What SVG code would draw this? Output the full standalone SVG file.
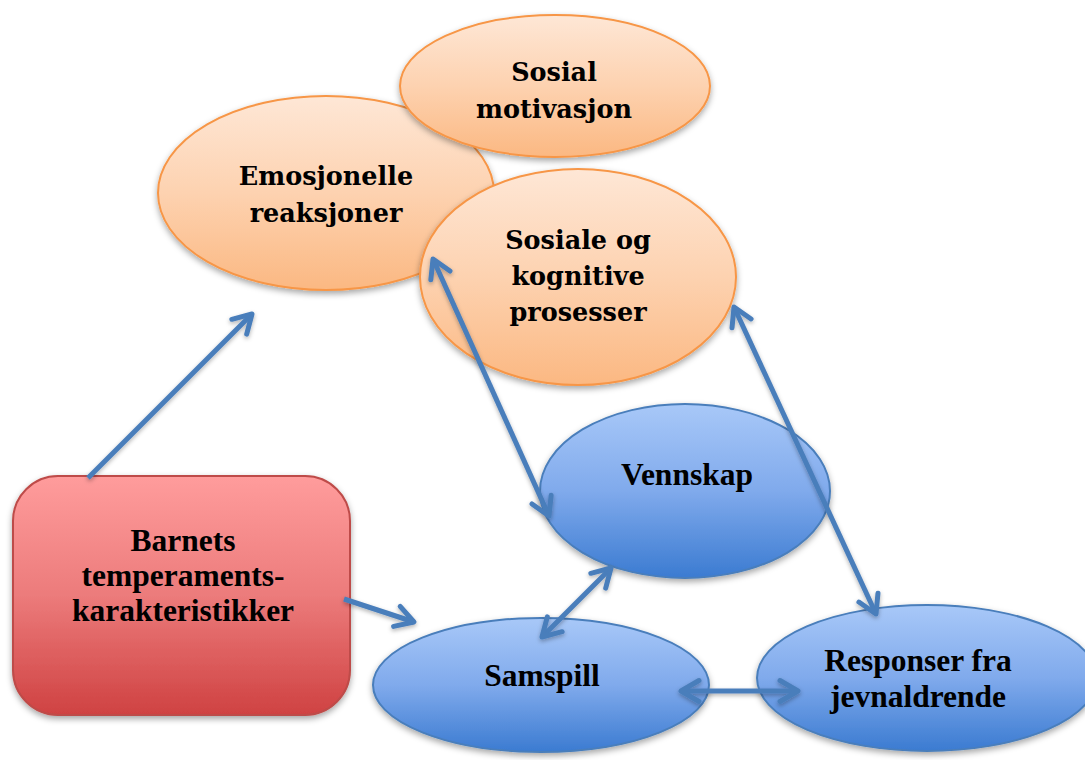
<svg xmlns="http://www.w3.org/2000/svg" width="1085" height="760" viewBox="0 0 1085 760">
<defs>
<linearGradient id="gOr" x1="0" y1="0" x2="0" y2="1">
<stop offset="0" stop-color="#fee7d6"/>
<stop offset="0.5" stop-color="#fdd2b0"/>
<stop offset="1" stop-color="#fbb882"/>
</linearGradient>
<linearGradient id="gBl" x1="0" y1="0" x2="0" y2="1">
<stop offset="0" stop-color="#a8c8f8"/>
<stop offset="0.5" stop-color="#80aaec"/>
<stop offset="1" stop-color="#3b7bd1"/>
</linearGradient>
<linearGradient id="gRd" x1="0" y1="0" x2="0" y2="1">
<stop offset="0" stop-color="#ff9c9c"/>
<stop offset="0.5" stop-color="#ec7b7b"/>
<stop offset="1" stop-color="#cf4242"/>
</linearGradient>
<filter id="sh" x="-10%" y="-10%" width="120%" height="130%">
<feDropShadow dx="0" dy="3" stdDeviation="3" flood-color="#000" flood-opacity="0.35"/>
</filter>
<filter id="ash" x="-20%" y="-20%" width="140%" height="140%">
<feDropShadow dx="0" dy="2" stdDeviation="2" flood-color="#000" flood-opacity="0.3"/>
</filter>
<marker id="ah" markerUnits="userSpaceOnUse" orient="auto-start-reverse" refX="0" refY="0" overflow="visible">
<path d="M -18,-10.5 L 0,0 L -18,10.5" fill="none" stroke="#4a7ebb" stroke-width="5" stroke-linecap="round" stroke-linejoin="round"/>
</marker>
</defs>
<style>
.or{fill:url(#gOr);stroke:#f79646;stroke-width:2;filter:url(#sh)}
.bl{fill:url(#gBl);stroke:#4a7ebb;stroke-width:2;filter:url(#sh)}
.rd{fill:url(#gRd);stroke:#be4b48;stroke-width:2;filter:url(#sh)}
.tc{font-family:"DejaVu Serif",serif;font-weight:bold;font-size:25.5px;fill:#000;text-anchor:middle}
.tt{font-family:"Liberation Serif","Times New Roman",serif;font-weight:bold;font-size:31.5px;fill:#000;text-anchor:middle}
.c{fill:none;stroke:#4a7ebb;stroke-width:5}
</style>
<rect width="1085" height="760" fill="#fff"/>
<g id="emosjonelle">
<ellipse class="or" cx="326" cy="193" rx="168" ry="97"/>
<text class="tc" x="326" y="185">Emosjonelle</text>
<text class="tc" x="326" y="222">reaksjoner</text>
</g>
<g id="sosial-motivasjon">
<ellipse class="or" cx="555" cy="86" rx="155" ry="71"/>
<text class="tc" x="554" y="81">Sosial</text>
<text class="tc" x="554" y="118">motivasjon</text>
</g>
<g id="sosiale-kognitive">
<ellipse class="or" cx="578" cy="277" rx="158" ry="108"/>
<text class="tc" x="578" y="249">Sosiale og</text>
<text class="tc" x="578" y="285">kognitive</text>
<text class="tc" x="578" y="321">prosesser</text>
</g>
<g id="vennskap">
<ellipse class="bl" cx="685" cy="491" rx="145" ry="87"/>
<text class="tt" x="687" y="485">Vennskap</text>
</g>
<g id="samspill">
<ellipse class="bl" cx="541" cy="685" rx="168" ry="67"/>
<text class="tt" x="542" y="686">Samspill</text>
</g>
<g id="responser">
<ellipse class="bl" cx="927" cy="678" rx="170" ry="73"/>
<text class="tt" x="918" y="671">Responser fra</text>
<text class="tt" x="918" y="707">jevnaldrende</text>
</g>
<g id="barnets">
<rect class="rd" x="13" y="476" width="337" height="239" rx="45" ry="45"/>
<text class="tt" x="183" y="551">Barnets</text>
<text class="tt" x="183" y="586">temperaments-</text>
<text class="tt" x="183" y="621">karakteristikker</text>
</g>
<g id="connectors" filter="url(#ash)">
<line class="c" x1="88" y1="478" x2="252" y2="314" marker-end="url(#ah)"/>
<line class="c" x1="344" y1="599" x2="414" y2="622" marker-end="url(#ah)"/>
<line class="c" x1="433" y1="259" x2="549" y2="516" marker-start="url(#ah)" marker-end="url(#ah)"/>
<line class="c" x1="734" y1="307" x2="876" y2="614" marker-start="url(#ah)" marker-end="url(#ah)"/>
<line class="c" x1="611" y1="568" x2="542" y2="637" marker-start="url(#ah)" marker-end="url(#ah)"/>
<line class="c" x1="681" y1="691" x2="798" y2="691" marker-start="url(#ah)" marker-end="url(#ah)"/>
</g>
</svg>
